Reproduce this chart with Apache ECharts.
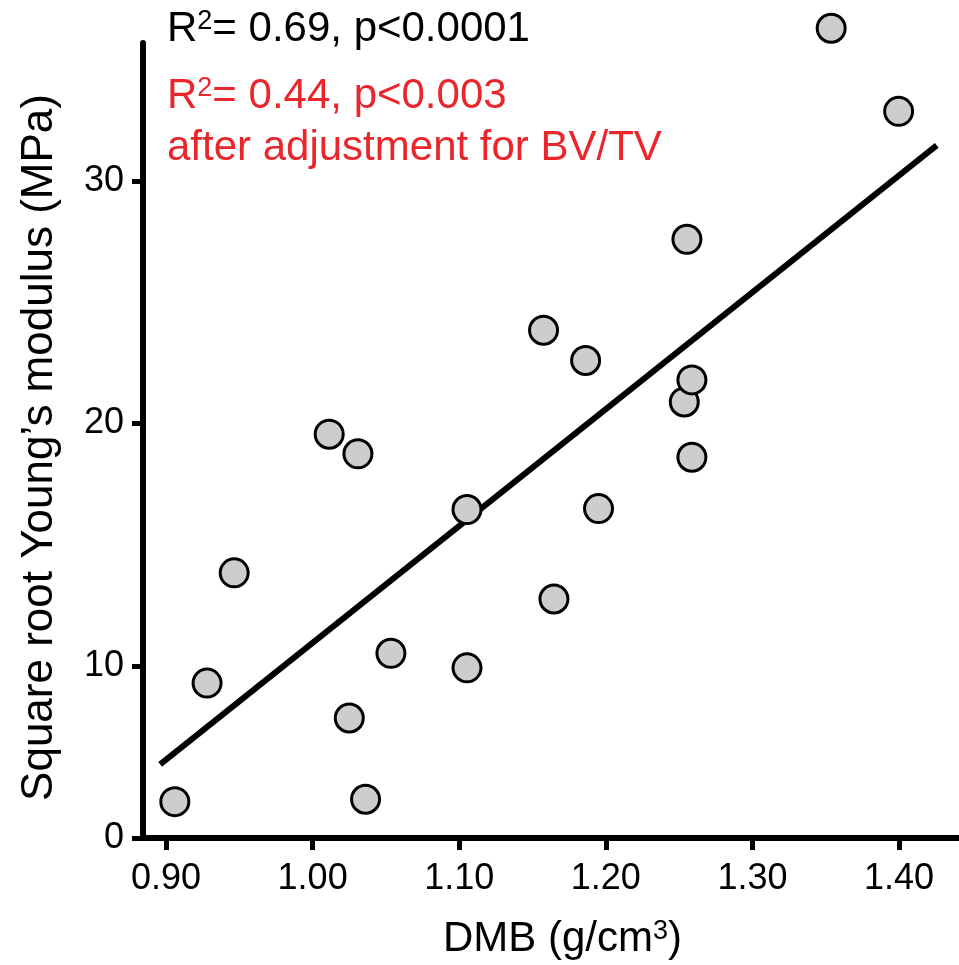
<!DOCTYPE html>
<html>
<head>
<meta charset="utf-8">
<script src="https://cdn.jsdelivr.net/npm/echarts@6/dist/echarts.min.js"></script>
<style>
html,body{margin:0;padding:0;background:#fff;}
#chart{width:959px;height:965px;}
</style>
</head>
<body>
<div id="chart"></div>
<script>
// DMB (g/cm3) values
const dmb = [0.906, 0.928, 0.9465, 1.0113, 1.025, 1.0309, 1.0361, 1.0534, 1.1053, 1.1053,
             1.1575, 1.1646, 1.1862, 1.195, 1.2535, 1.2553, 1.2587, 1.2587, 1.3537, 1.3997];
// Square root Young's modulus (MPa)
const sqrtYM = [4.40, 9.29, 13.84, 19.56, 7.85, 18.75, 4.50, 10.52, 16.45, 9.92,
                23.85, 12.76, 22.60, 16.49, 20.89, 27.60, 21.80, 18.61, 36.31, 32.88];
// regression line end points
const fitX = [0.896, 1.4257];
const fitY = [5.94, 31.48];
// axes
const xRange = [0.8843, 1.4402];
const yRange = [2.90, 35.7];
const xTickValues = [0.9, 1.0, 1.1, 1.2, 1.3, 1.4];
const xTickLabels = ['0.90', '1.00', '1.10', '1.20', '1.30', '1.40'];
const yTickValues = [2.90, 10, 20, 30];
const yTickLabels = ['0', '10', '20', '30'];
const annoBlack = ['R', '2', '= 0.69, p<0.0001'];
const annoRed1 = ['R', '2', '= 0.44, p<0.003'];
const annoRed2 = 'after adjustment for BV/TV';
const xName = ['DMB (g/cm', '3', ')'];
const yName = 'Square root Young’s modulus (MPa)';

const FONT = "'Liberation Sans', Arial, Helvetica, sans-serif";
const RED = '#e8262b';

function supText(parts) {
  return '{n|' + parts[0] + '}{s|' + parts[1] + '}{n|' + parts[2] + '}';
}
function supRich(color, size, supSize) {
  return {
    n: {fontFamily: FONT, fontSize: size, fill: color, color: color, lineHeight: size},
    s: {fontFamily: FONT, fontSize: supSize, fill: color, color: color, verticalAlign: 'top', lineHeight: size}
  };
}

const chart = echarts.init(document.getElementById('chart'), null, {renderer: 'canvas'});
chart.setOption({
  animation: false,
  backgroundColor: '#ffffff',
  grid: {left: 143, right: 1, top: 43, bottom: 127, containLabel: false, outerBoundsMode: 'none'},
  xAxis: {
    type: 'value', min: xRange[0], max: xRange[1],
    name: supText(xName), nameLocation: 'middle', nameGap: 80,
    nameTextStyle: {fontFamily: FONT, fontSize: 42, color: '#000', padding: [0, 0, 0, 24],
      rich: {
        n: {fontFamily: FONT, fontSize: 42, color: '#000', lineHeight: 42},
        s: {fontFamily: FONT, fontSize: 27, color: '#000', verticalAlign: 'top', lineHeight: 42}
      }},
    axisLine: {show: true, onZero: false, lineStyle: {color: '#000', width: 6}},
    axisTick: {show: true, length: 12, customValues: xTickValues, lineStyle: {color: '#000', width: 5}},
    axisLabel: {
      show: true, margin: 23, fontFamily: FONT, fontSize: 36, color: '#000',
      customValues: xTickValues,
      formatter: v => { const i = xTickValues.findIndex(t => Math.abs(t - v) < 1e-6); return i >= 0 ? xTickLabels[i] : ''; }
    },
    splitLine: {show: false}
  },
  yAxis: {
    type: 'value', min: yRange[0], max: yRange[1],
    name: yName, nameLocation: 'middle', nameGap: 81,
    nameTextStyle: {fontFamily: FONT, fontSize: 44, color: '#000', padding: [0, 14, 0, 0]},
    axisLine: {show: true, onZero: false, lineStyle: {color: '#000', width: 6}},
    axisTick: {show: true, length: 11, customValues: yTickValues, lineStyle: {color: '#000', width: 5}},
    axisLabel: {
      show: true, margin: 19, fontFamily: FONT, fontSize: 36, color: '#000',
      customValues: yTickValues,
      formatter: v => { const i = yTickValues.findIndex(t => Math.abs(t - v) < 1e-6); return i >= 0 ? yTickLabels[i] : ''; }
    },
    splitLine: {show: false}
  },
  series: [
    {
      type: 'line', data: fitX.map((x, i) => [x, fitY[i]]),
      symbol: 'none', lineStyle: {color: '#000', width: 6, cap: 'butt'},
      z: 2, clip: false, silent: true
    },
    {
      type: 'scatter', data: dmb.map((x, i) => [x, sqrtYM[i]]),
      symbol: 'circle', symbolSize: 28,
      itemStyle: {color: '#cccecc', borderColor: '#000', borderWidth: 3, opacity: 1},
      z: 3, clip: false
    }
  ],
  graphic: [
    {type: 'text', left: 167, top: 8, style: {text: supText(annoBlack), rich: supRich('#000', 42, 27)}},
    {type: 'text', left: 167, top: 75, style: {text: supText(annoRed1), rich: supRich(RED, 42, 27)}},
    {type: 'text', left: 167, top: 127, style: {text: annoRed2, font: '42px ' + FONT, fill: RED}}
  ]
});
</script>
</body>
</html>
